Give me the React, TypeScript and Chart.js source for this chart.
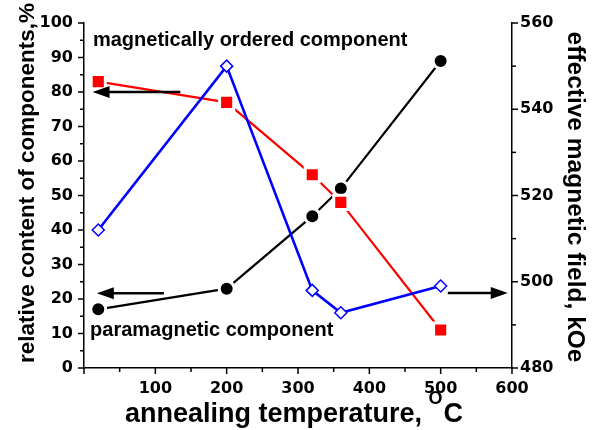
import React, { useEffect, useRef } from "react";
import { Chart, registerables } from "chart.js";

Chart.register(...registerables);

const temps = [20, 200, 320, 360, 500];
const orderedContent = [83, 77, 56, 48, 11];
const paraContent = [17, 23, 44, 52, 89];
const effField = [512, 550, 498, 492.8, 499];

const xTicks = [0, 100, 200, 300, 400, 500, 600];
const xMinorTicks = [50, 150, 250, 350, 450, 550];
const yTicks = [0, 10, 20, 30, 40, 50, 60, 70, 80, 90, 100];
const yMinorTicks = [5, 15, 25, 35, 45, 55, 65, 75, 85, 95];
const y2Ticks = [480, 500, 520, 540, 560];
const y2MinorTicks = [490, 510, 530, 550];

// arrows: [x from, y from, axis] -> [x to, y to]
const arrowFrom = [[135, 80, "y"], [112, 21.7, "y"], [510, 497.4, "y2"]];
const arrowTo = [[12, 80], [18, 21.7], [594, 497.4]];

const labels = ["magnetically ordered component", "paramagnetic component"];
const labelPos = [[12.5, 95], [8.5, 11]];

const FONT = "'Liberation Sans', Arial, sans-serif";
const TICKFONT = "'DejaVu Sans', sans-serif";

const decor = {
  id: "decor",
  afterDraw(chart: any) {
    const ctx = chart.ctx as CanvasRenderingContext2D;
    const xs = chart.scales.x, ys = chart.scales.y, y2s = chart.scales.y2;
    const ca = chart.chartArea;
    ctx.save();
    ctx.strokeStyle = "#000";
    ctx.lineWidth = 1.5;
    const tick = (x1: number, y1: number, x2: number, y2: number) => {
      ctx.beginPath(); ctx.moveTo(x1, y1); ctx.lineTo(x2, y2); ctx.stroke();
    };
    xTicks.forEach(v => { const p = xs.getPixelForValue(v); tick(p, ca.bottom, p, ca.bottom + 6); });
    xMinorTicks.forEach(v => { const p = xs.getPixelForValue(v); tick(p, ca.bottom, p, ca.bottom + 4); });
    yTicks.forEach(v => { const p = ys.getPixelForValue(v); tick(ca.left, p, ca.left - 6, p); });
    yMinorTicks.forEach(v => { const p = ys.getPixelForValue(v); tick(ca.left, p, ca.left - 4, p); });
    y2Ticks.forEach(v => { const p = y2s.getPixelForValue(v); tick(ca.right, p, ca.right + 6, p); });
    y2MinorTicks.forEach(v => { const p = y2s.getPixelForValue(v); tick(ca.right, p, ca.right + 4, p); });

    // arrows
    ctx.lineWidth = 2.5;
    ctx.fillStyle = "#000";
    arrowFrom.forEach((a, i) => {
      const sc = chart.scales[a[2] as string];
      const x1 = xs.getPixelForValue(a[0] as number);
      const y1 = sc.getPixelForValue(a[1] as number);
      const x2 = xs.getPixelForValue(arrowTo[i][0]);
      const y2 = sc.getPixelForValue(arrowTo[i][1]);
      const ang = Math.atan2(y2 - y1, x2 - x1);
      const hl = 17, hw = 6;
      const bx = x2 - hl * Math.cos(ang), by = y2 - hl * Math.sin(ang);
      ctx.beginPath(); ctx.moveTo(x1, y1); ctx.lineTo(bx + 2 * Math.cos(ang), by + 2 * Math.sin(ang)); ctx.stroke();
      ctx.beginPath();
      ctx.moveTo(x2, y2);
      ctx.lineTo(bx + hw * Math.sin(ang), by - hw * Math.cos(ang));
      ctx.lineTo(bx - hw * Math.sin(ang), by + hw * Math.cos(ang));
      ctx.closePath(); ctx.fill();
    });

    // in-plot labels
    ctx.font = `bold 20px ${FONT}`;
    ctx.textBaseline = "middle";
    ctx.textAlign = "left";
    labels.forEach((t, i) => {
      ctx.fillText(t, xs.getPixelForValue(labelPos[i][0]), ys.getPixelForValue(labelPos[i][1]));
    });

    // axis titles
    ctx.textAlign = "center";
    ctx.font = `bold 22.5px ${FONT}`;
    ctx.save();
    ctx.translate(28, 183);
    ctx.rotate(-Math.PI / 2);
    ctx.fillText("relative content of components,%", 0, 0);
    ctx.restore();
    ctx.font = `bold 24.5px ${FONT}`;
    ctx.save();
    ctx.translate(575, 197);
    ctx.rotate(Math.PI / 2);
    ctx.fillText("effective magnetic field, kOe", 0, 0);
    ctx.restore();

    // x title with superscript O
    const main = "annealing temperature, ";
    const sup = "O";
    const tail = "C";
    ctx.textAlign = "left";
    ctx.textBaseline = "alphabetic";
    ctx.font = `bold 27px ${FONT}`;
    const wMain = ctx.measureText(main).width;
    const wTail = ctx.measureText(tail).width;
    ctx.font = `bold 18px ${FONT}`;
    const wSup = ctx.measureText(sup).width;
    const total = wMain + wSup + wTail;
    const sx = 294 - total / 2;
    const base = 422;
    ctx.font = `bold 27px ${FONT}`;
    ctx.fillText(main, sx, base);
    ctx.font = `bold 18px ${FONT}`;
    ctx.fillText(sup, sx + wMain - 1, base - 18);
    ctx.font = `bold 27px ${FONT}`;
    ctx.fillText(tail, sx + wMain + wSup, base);
    ctx.restore();
  },
};

export default function App() {
  const ref = useRef<HTMLCanvasElement>(null);
  useEffect(() => {
    document.body.style.margin = "0";
    const tickFont = { family: TICKFONT, size: 16, weight: "bold" as const };
    const chart = new Chart(ref.current!, {
      type: "line",
      data: {
        datasets: [
          {
            label: "field",
            data: temps.map((t, i) => ({ x: t, y: effField[i] })),
            yAxisID: "y2",
            borderColor: "#0000ff",
            borderWidth: 2.6,
            pointStyle: "rectRot",
            pointRadius: 6,
            pointBorderWidth: 1.5,
            pointBorderColor: "#0000ff",
            pointBackgroundColor: "#ffffff",
          },
          {
            label: "ordered",
            data: temps.map((t, i) => ({ x: t, y: orderedContent[i] })),
            yAxisID: "y",
            borderColor: "#ff0000",
            borderWidth: 2.2,
            pointStyle: "rect",
            pointRadius: 10,
            pointBorderWidth: 3,
            pointBorderColor: "#ffffff",
            pointBackgroundColor: "#ff0000",
          },
          {
            label: "para",
            data: temps.map((t, i) => ({ x: t, y: paraContent[i] })),
            yAxisID: "y",
            borderColor: "#000000",
            borderWidth: 2.2,
            pointStyle: "circle",
            pointRadius: 7.5,
            pointBorderWidth: 3,
            pointBorderColor: "#ffffff",
            pointBackgroundColor: "#000000",
          },
        ],
      },
      options: {
        responsive: false,
        animation: false,
        layout: { padding: { top: 23, left: 0, right: 0, bottom: 0 } },
        plugins: { legend: { display: false }, tooltip: { enabled: false } },
        scales: {
          x: {
            type: "linear",
            min: 0,
            max: 600,
            afterFit: (s: any) => { s.height = 62; },
            border: { display: true, color: "#000", width: 1.5 },
            grid: { display: true, drawOnChartArea: false, drawTicks: false, color: "rgba(0,0,0,0)" },
            ticks: {
              stepSize: 100,
              padding: 11,
              color: "#000",
              font: tickFont,
              maxRotation: 0,
              callback: (v: any) => (v === 0 ? "" : String(v)),
            },
          },
          y: {
            type: "linear",
            position: "left",
            min: 0,
            max: 100,
            afterFit: (s: any) => { s.width = 84; },
            border: { display: true, color: "#000", width: 1.5 },
            grid: { display: true, drawOnChartArea: false, drawTicks: false, color: "rgba(0,0,0,0)" },
            ticks: { stepSize: 10, padding: 11, color: "#000", font: tickFont },
          },
          y2: {
            type: "linear",
            position: "right",
            min: 480,
            max: 560,
            afterFit: (s: any) => { s.width = 84; },
            border: { display: true, color: "#000", width: 1.5 },
            grid: { display: true, drawOnChartArea: false, drawTicks: false, color: "rgba(0,0,0,0)" },
            ticks: { stepSize: 20, padding: 8, color: "#000", font: tickFont },
          },
        },
      },
      plugins: [decor],
    });
    return () => chart.destroy();
  }, []);
  return (
    <div style={{ width: 596, height: 430, background: "#fff" }}>
      <canvas ref={ref} width={596} height={430} />
    </div>
  );
}
